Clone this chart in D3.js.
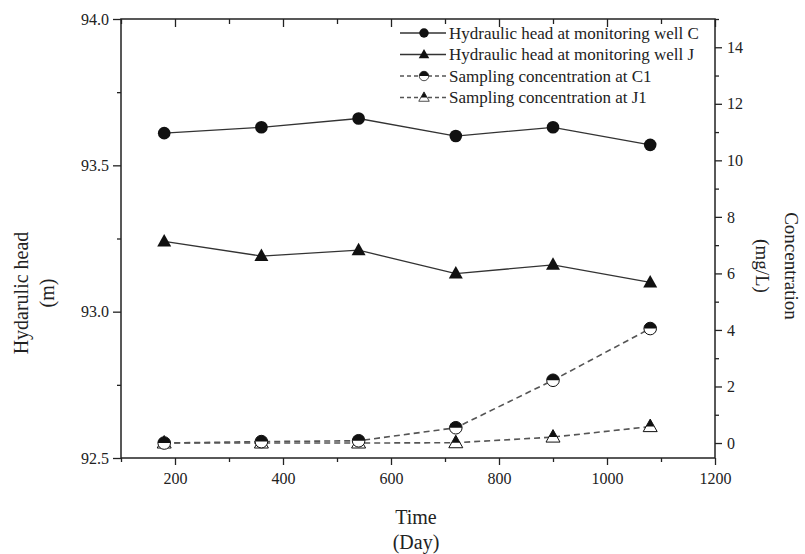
<!DOCTYPE html>
<html>
<head>
<meta charset="utf-8">
<script src="https://cdn.jsdelivr.net/npm/d3@7"></script>
<style>
  body { margin: 0; background: #fff; }
  svg text { font-family: "Liberation Serif", "DejaVu Serif", serif; fill: #222; }
</style>
</head>
<body>
<div id="chart"></div>
<script>
// data
var days = [180, 360, 540, 720, 900, 1080];
var headC = [93.61, 93.63, 93.66, 93.60, 93.63, 93.57];
var headJ = [93.24, 93.19, 93.21, 93.13, 93.16, 93.10];
var concC1 = [0, 0.05, 0.08, 0.54, 2.22, 4.05];
var concJ1 = [0, 0, 0, 0.01, 0.21, 0.58];

var xTicks = [200, 400, 600, 800, 1000, 1200];
var xMinor = [100, 300, 500, 700, 900, 1100];
var leftTicks = [92.5, 93.0, 93.5, 94.0];
var leftMinor = [92.75, 93.25, 93.75];
var rightTicks = [0, 2, 4, 6, 8, 10, 12, 14];
var rightMinor = [1, 3, 5, 7, 9, 11, 13, 15];

var legendLabels = [
  "Hydraulic head at monitoring well C",
  "Hydraulic head at monitoring well J",
  "Sampling concentration at C1",
  "Sampling concentration at J1"
];

var width = 805, height = 554;
var margin = {left: 121, right: 90, top: 19, bottom: 96};
var plotW = width - margin.left - margin.right;
var plotH = height - margin.top - margin.bottom;

var svg = d3.select("#chart").append("svg")
  .attr("width", width)
  .attr("height", height);

var defs = svg.append("defs");
// clip that keeps only the upper half of a marker (half-filled symbols)
defs.append("clipPath").attr("id", "topHalf")
  .append("rect").attr("x", -10).attr("y", -10).attr("width", 20).attr("height", 10);

var g = svg.append("g").attr("transform", "translate(" + margin.left + "," + margin.top + ")");

var x = d3.scaleLinear().domain([100, 1200]).range([0, plotW]);
var yL = d3.scaleLinear().domain([92.5, 94.0]).range([plotH, 0]);
var yR = d3.scaleLinear().domain([-0.53, 15]).range([plotH, 0]);

function styleAxis(sel) {
  sel.attr("font-family", null);
  sel.select(".domain").remove();
  sel.selectAll("line").attr("stroke", "#222").attr("stroke-width", 1.3);
  sel.selectAll("text")
    .attr("font-size", 16)
    .style("font-family", "'Liberation Serif', serif")
    .attr("fill", "#222");
}

// bottom axis
g.append("g").attr("transform", "translate(0," + plotH + ")")
  .call(d3.axisBottom(x).tickValues(xTicks).tickSize(7).tickPadding(8).tickFormat(d3.format("d")))
  .call(styleAxis);
g.append("g").attr("transform", "translate(0," + plotH + ")")
  .call(d3.axisBottom(x).tickValues(xMinor).tickSize(4).tickFormat(""))
  .call(styleAxis);

// top axis, ticks inward
g.append("g")
  .call(d3.axisTop(x).tickValues(xTicks).tickSize(-8).tickFormat(""))
  .call(styleAxis);
g.append("g")
  .call(d3.axisTop(x).tickValues(xMinor).tickSize(-5).tickFormat(""))
  .call(styleAxis);

// left axis
g.append("g")
  .call(d3.axisLeft(yL).tickValues(leftTicks).tickSize(8).tickPadding(4).tickFormat(d3.format(".1f")))
  .call(styleAxis);
g.append("g")
  .call(d3.axisLeft(yL).tickValues(leftMinor).tickSize(4).tickFormat(""))
  .call(styleAxis);

// right axis
g.append("g").attr("transform", "translate(" + plotW + ",0)")
  .call(d3.axisRight(yR).tickValues(rightTicks).tickSize(7).tickPadding(5).tickFormat(d3.format("d")))
  .call(styleAxis);
g.append("g").attr("transform", "translate(" + plotW + ",0)")
  .call(d3.axisRight(yR).tickValues(rightMinor).tickSize(4).tickFormat(""))
  .call(styleAxis);

// frame
g.append("rect")
  .attr("width", plotW).attr("height", plotH)
  .attr("fill", "none").attr("stroke", "#222").attr("stroke-width", 1.5);

// marker drawing
var triPath = "M0,-7.5L7,5L-7,5Z";
function drawMarker(sel, kind, half) {
  var shape = kind === "circle" ? "M-6.3,0A6.3,6.3 0 1,1 6.3,0A6.3,6.3 0 1,1 -6.3,0Z" : triPath;
  if (half) {
    sel.append("path").attr("d", shape).attr("fill", "#fff").attr("stroke", "#111").attr("stroke-width", 1);
    sel.append("path").attr("d", shape).attr("fill", "#111").attr("clip-path", "url(#topHalf)");
  } else {
    sel.append("path").attr("d", shape).attr("fill", "#111");
  }
}

var series = [
  {vals: headC, y: yL, kind: "circle", half: false, dash: null, color: "#333"},
  {vals: headJ, y: yL, kind: "triangle", half: false, dash: null, color: "#333"},
  {vals: concC1, y: yR, kind: "circle", half: true, dash: "6,4", color: "#555"},
  {vals: concJ1, y: yR, kind: "triangle", half: true, dash: "6,4", color: "#555"}
];

// dashed lines first, then solid
series.slice().reverse().forEach(function(s) {
  var line = d3.line()
    .x(function(d, i) { return x(days[i]); })
    .y(function(d) { return s.y(d); });
  g.append("path")
    .datum(s.vals)
    .attr("d", line)
    .attr("fill", "none")
    .attr("stroke", s.color)
    .attr("stroke-width", s.dash ? 1.6 : 1.3)
    .attr("stroke-dasharray", s.dash);
});

series.slice().reverse().forEach(function(s) {
  s.vals.forEach(function(v, i) {
    var m = g.append("g").attr("transform", "translate(" + x(days[i]) + "," + s.y(v) + ")");
    drawMarker(m, s.kind, s.half);
  });
});

// legend
var legend = svg.append("g").attr("transform", "translate(400,33)");
series.forEach(function(s, i) {
  var row = legend.append("g").attr("transform", "translate(0," + (i * 21.5) + ")");
  row.append("line")
    .attr("x1", 0).attr("x2", 46).attr("y1", 0).attr("y2", 0)
    .attr("stroke", s.color).attr("stroke-width", 1.3)
    .attr("stroke-dasharray", s.dash ? "4,3" : null);
  var m = row.append("g").attr("transform", "translate(24,0) scale(0.75)");
  drawMarker(m, s.kind, s.half);
  row.append("text")
    .attr("x", 49).attr("y", 5.5)
    .attr("font-size", 17)
    .text(legendLabels[i]);
});

// axis titles
svg.append("text")
  .attr("transform", "translate(28,293) rotate(-90)")
  .attr("text-anchor", "middle").attr("font-size", 20)
  .text("Hydarulic head");
svg.append("text")
  .attr("transform", "translate(54,293) rotate(-90)")
  .attr("text-anchor", "middle").attr("font-size", 20)
  .text("(m)");

svg.append("text")
  .attr("transform", "translate(785,266) rotate(90)")
  .attr("text-anchor", "middle").attr("font-size", 19)
  .text("Concentration");
svg.append("text")
  .attr("transform", "translate(756,266) rotate(90)")
  .attr("text-anchor", "middle").attr("font-size", 19)
  .text("(mg/L)");

svg.append("text")
  .attr("x", 416).attr("y", 524)
  .attr("text-anchor", "middle").attr("font-size", 20)
  .text("Time");
svg.append("text")
  .attr("x", 416).attr("y", 549)
  .attr("text-anchor", "middle").attr("font-size", 20)
  .text("(Day)");
</script>
</body>
</html>
